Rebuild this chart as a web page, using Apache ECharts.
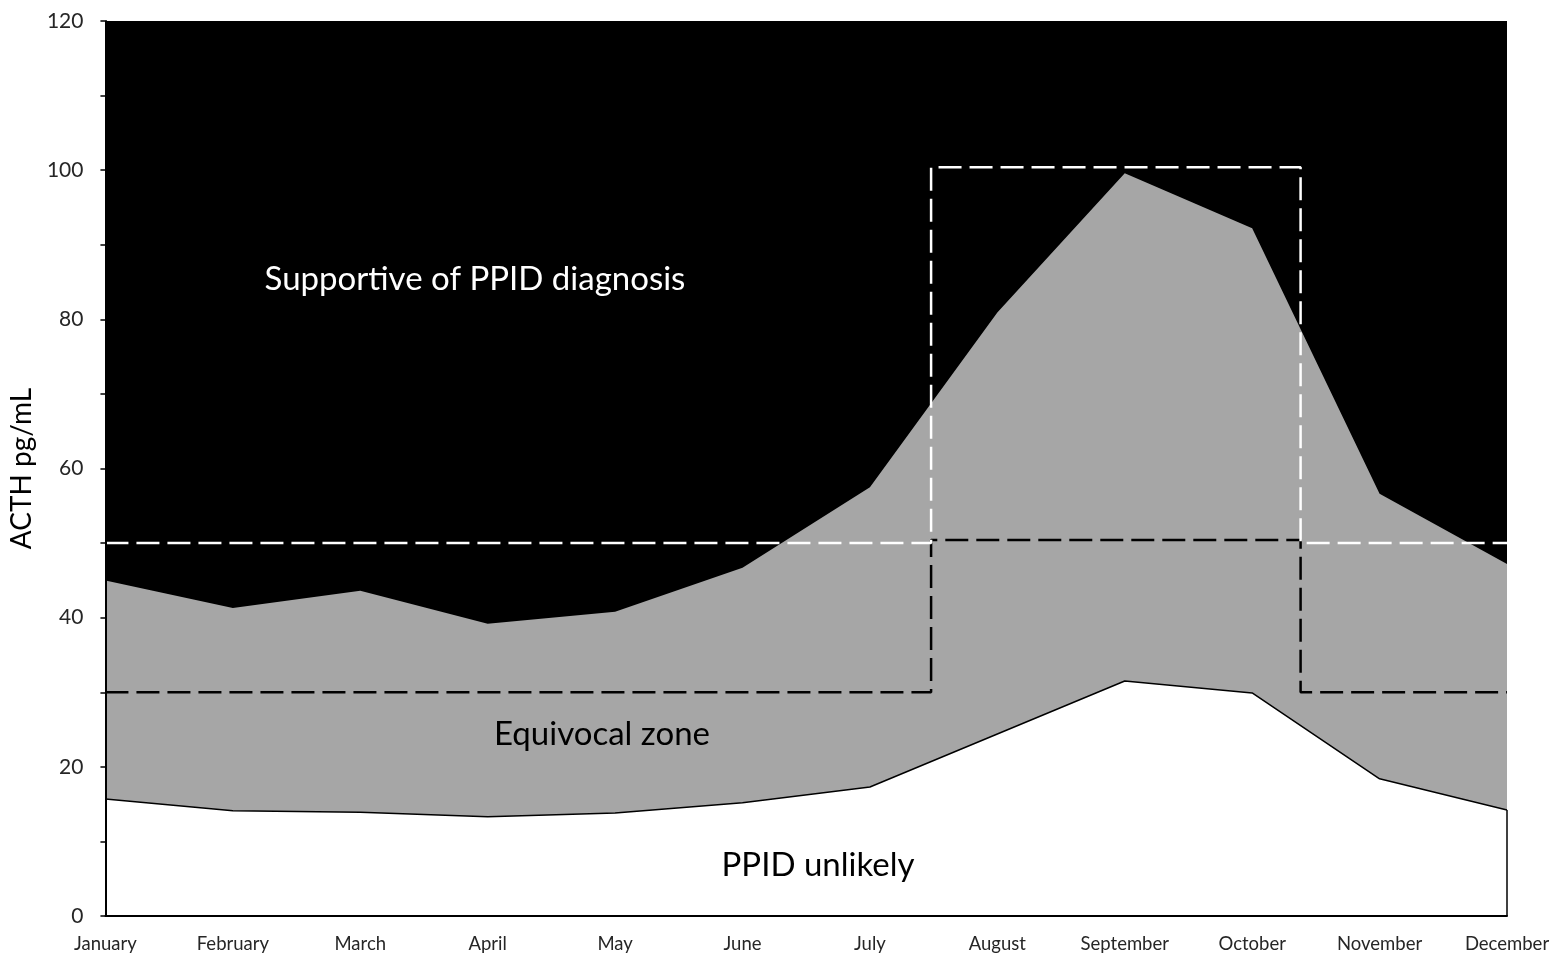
<!DOCTYPE html>
<html>
<head>
<meta charset="utf-8">
<script src="https://cdn.jsdelivr.net/npm/echarts@6/dist/echarts.min.js"></script>
<style>html,body{margin:0;padding:0;background:#fff;}#c{width:1563px;height:956px;}</style>
</head>
<body>
<div id="c"></div>
<script>
const months = ['January','February','March','April','May','June','July','August','September','October','November','December'];
const upperBound = [45.0, 41.3, 43.6, 39.2, 40.8, 46.7, 57.5, 80.9, 99.6, 92.2, 56.6, 47.2];
const lowerBound = [15.7, 14.1, 13.9, 13.3, 13.8, 15.2, 17.3, 24.4, 31.5, 29.9, 18.4, 14.2];
// seasonal window (x in month index units)
const windowStart = 6.48;
const windowEnd = 9.38;
// upper reference (white dashed) : outside window / inside window
const upperRefOut = 50;
const upperRefIn = 100.4;
// lower reference (black dashed) : outside window / inside window
const lowerRefOut = 30;
const lowerRefIn = 50.4;
const yTicks = [0, 20, 40, 60, 80, 100, 120];

function stepLine(outV, inV) {
  return [[0, outV], [windowStart, outV], [windowStart, inV], [windowEnd, inV], [windowEnd, outV], [months.length - 1, outV]];
}

const chart = echarts.init(document.getElementById('c'));
const font = 'Lato, "Open Sans", sans-serif';
chart.setOption({
  animation: false,
  grid: { left: 104, right: 56, top: 21, bottom: 40, show: true, backgroundColor: '#000000', borderWidth: 0 },
  xAxis: {
    type: 'value', min: 0, max: months.length - 1, interval: 1, z: 10,
    axisLine: { lineStyle: { color: '#000', width: 2 } },
    axisTick: { show: false },
    splitLine: { show: false },
    axisLabel: { formatter: v => months[v] || '', color: '#262626', fontSize: 18.5, fontFamily: font, margin: 19 }
  },
  yAxis: {
    type: 'value', min: yTicks[0], max: yTicks[yTicks.length - 1], interval: 20, z: 10,
    name: 'ACTH pg/mL', nameLocation: 'middle', nameRotate: 90, nameGap: 68,
    nameTextStyle: { color: '#000', fontSize: 28, fontFamily: font },
    axisLine: { show: true, lineStyle: { color: '#000', width: 2 } },
    axisTick: { show: true, length: 5, lineStyle: { color: '#000', width: 1.5 } },
    minorTick: { show: true, splitNumber: 2, length: 5, lineStyle: { color: '#000', width: 1.5 } },
    splitLine: { show: false },
    axisLabel: { color: '#262626', fontSize: 21, fontFamily: font, margin: 22 }
  },
  series: [
    {
      type: 'line', data: upperBound.map((v, i) => [i, v]), symbol: 'none',
      lineStyle: { width: 0 }, areaStyle: { color: '#a6a6a6', opacity: 1 }, z: 2
    },
    {
      type: 'line', data: lowerBound.map((v, i) => [i, v]), symbol: 'none',
      lineStyle: { width: 1.5, color: '#000' }, areaStyle: { color: '#ffffff', opacity: 1 }, z: 3,
      markLine: {
        silent: true, symbol: 'none', label: { show: false },
        lineStyle: { color: '#000', width: 1.5, type: 'solid' },
        data: [[{ coord: [months.length - 1, 0] }, { coord: [months.length - 1, lowerBound[lowerBound.length - 1]] }]]
      }
    },
    {
      type: 'line', data: stepLine(upperRefOut, upperRefIn), symbol: 'none', z: 5,
      lineStyle: { color: '#ffffff', width: 2.5, type: [23, 8] }
    },
    {
      type: 'line', data: stepLine(lowerRefOut, lowerRefIn), symbol: 'none', z: 4,
      lineStyle: { color: '#000000', width: 2.5, type: [23, 8] }
    }
  ],
  graphic: [
    { type: 'text', x: 475, y: 279, z: 10, style: { text: 'Supportive of PPID diagnosis', fill: '#fff', font: '33px ' + font, textAlign: 'center', textVerticalAlign: 'middle' } },
    { type: 'text', x: 602, y: 734, z: 10, style: { text: 'Equivocal zone', fill: '#000', font: '33px ' + font, textAlign: 'center', textVerticalAlign: 'middle' } },
    { type: 'text', x: 818, y: 865, z: 10, style: { text: 'PPID unlikely', fill: '#000', font: '33px ' + font, textAlign: 'center', textVerticalAlign: 'middle' } }
  ]
});
</script>
</body>
</html>
